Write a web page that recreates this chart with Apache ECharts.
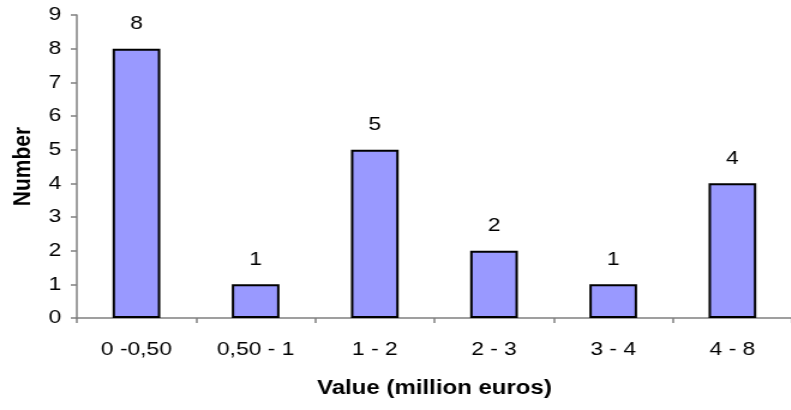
<!DOCTYPE html>
<html>
<head>
<meta charset="utf-8">
<script src="https://cdn.jsdelivr.net/npm/echarts@6/dist/echarts.min.js"></script>
<style>
  html, body { margin: 0; padding: 0; background: #fff; overflow: hidden; }
  /* The chart is laid out on a narrower canvas and widened horizontally,
     giving the broad lettering of the original figure. */
  #chart { width: 660px; height: 410px; transform: scaleX(1.2); transform-origin: 0 0; }
</style>
</head>
<body>
<div id="chart"></div>
<script>
// Value classes (million euros) and number of items in each
const categories = ['0 -0,50', '0,50 - 1', '1 - 2', '2 - 3', '3 - 4', '4 - 8'];
const counts = [8, 1, 5, 2, 1, 4];
const yTicks = { min: 0, max: 9, interval: 1 };

const FONT = '"Liberation Sans", Arial, sans-serif';
const AXIS_GREY = '#808080';

const chart = echarts.init(document.getElementById('chart'), null, { renderer: 'canvas' });

chart.setOption({
  animation: false,
  backgroundColor: '#ffffff',
  grid: { left: 64, top: 15, width: 600, height: 303, containLabel: false },
  xAxis: {
    type: 'category',
    data: categories,
    boundaryGap: true,
    name: 'Value (million euros)',
    nameLocation: 'middle',
    nameGap: 60,
    nameTextStyle: { fontFamily: FONT, fontSize: 20, fontWeight: 'bold', color: '#000' },
    axisLine: { lineStyle: { color: AXIS_GREY, width: 1.5 } },
    axisTick: { show: true, length: 5, alignWithLabel: false, lineStyle: { color: AXIS_GREY, width: 1.5 } },
    axisLabel: { fontFamily: FONT, fontSize: 19, color: '#000', margin: 22 },
    splitLine: { show: false }
  },
  yAxis: {
    type: 'value',
    min: yTicks.min,
    max: yTicks.max,
    interval: yTicks.interval,
    name: 'Number',
    nameLocation: 'middle',
    nameGap: 34,
    nameRotate: 90,
    nameTextStyle: { fontFamily: FONT, fontSize: 21, fontWeight: 'bold', color: '#000' },
    axisLine: { show: true, lineStyle: { color: AXIS_GREY, width: 1.5 } },
    axisTick: { show: true, length: 5, inside: false, lineStyle: { color: AXIS_GREY, width: 1.5 } },
    axisLabel: { fontFamily: FONT, fontSize: 19, color: '#000', margin: 13 },
    splitLine: { show: false }
  },
  series: [{
    type: 'bar',
    data: counts,
    barWidth: '40%',
    itemStyle: { color: '#9999FF', borderColor: '#000000', borderWidth: 2 },
    label: {
      show: true,
      position: 'top',
      distance: 15,
      fontFamily: FONT,
      fontSize: 19,
      color: '#000'
    }
  }]
});
</script>
</body>
</html>
